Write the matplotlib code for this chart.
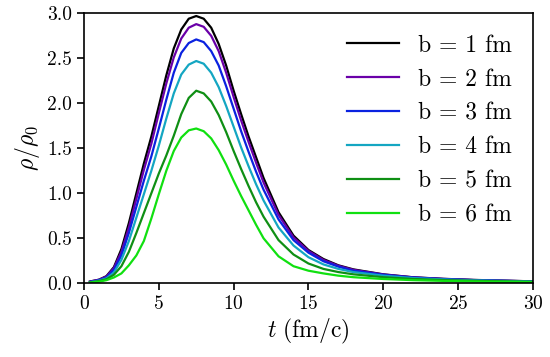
import matplotlib
matplotlib.use("Agg")
import matplotlib.pyplot as plt

plt.rcParams['font.family'] = 'serif'
plt.rcParams['font.serif'] = ['cmr10', 'DejaVu Serif']
plt.rcParams['mathtext.fontset'] = 'cm'
plt.rcParams['axes.formatter.use_mathtext'] = True

# time grid (fm/c)
t = [0.4, 1, 1.5, 2, 2.5, 3, 3.5, 4, 4.5, 5, 5.5, 6, 6.5, 7, 7.5, 8, 8.5, 9, 9.5,
     10, 10.5, 11, 11.5, 12, 13, 14, 15, 16, 17, 18, 20, 22, 24, 26, 28, 30]

# rho/rho0 for each impact parameter
rho_b1 = [0.02, 0.04, 0.08, 0.18, 0.38, 0.67, 1.00, 1.33, 1.63, 1.97, 2.31, 2.61, 2.82, 2.94, 2.97,
          2.94, 2.84, 2.66, 2.42, 2.14, 1.88, 1.63, 1.40, 1.17, 0.79, 0.53, 0.37, 0.27, 0.20, 0.155,
          0.10, 0.067, 0.05, 0.038, 0.03, 0.022]
rho_b2 = [0.02, 0.04, 0.075, 0.17, 0.35, 0.62, 0.94, 1.26, 1.55, 1.89, 2.22, 2.51, 2.72, 2.84, 2.88,
          2.85, 2.75, 2.58, 2.34, 2.07, 1.81, 1.57, 1.34, 1.12, 0.76, 0.51, 0.36, 0.26, 0.195, 0.15,
          0.098, 0.066, 0.049, 0.037, 0.029, 0.022]
rho_b3 = [0.015, 0.035, 0.065, 0.15, 0.31, 0.56, 0.85, 1.14, 1.41, 1.72, 2.04, 2.34, 2.56, 2.67, 2.71,
          2.68, 2.58, 2.42, 2.19, 1.94, 1.69, 1.46, 1.24, 1.04, 0.71, 0.48, 0.34, 0.245, 0.185, 0.14,
          0.094, 0.064, 0.047, 0.036, 0.028, 0.021]
rho_b4 = [0.012, 0.03, 0.055, 0.12, 0.26, 0.47, 0.73, 0.99, 1.25, 1.53, 1.83, 2.11, 2.32, 2.43, 2.47,
          2.44, 2.34, 2.18, 1.97, 1.74, 1.51, 1.30, 1.10, 0.92, 0.62, 0.42, 0.29, 0.21, 0.16, 0.125,
          0.085, 0.058, 0.043, 0.033, 0.026, 0.02]
rho_b5 = [0.01, 0.025, 0.045, 0.095, 0.19, 0.35, 0.56, 0.78, 1.00, 1.22, 1.42, 1.64, 1.88, 2.06, 2.14,
          2.11, 2.02, 1.87, 1.68, 1.47, 1.27, 1.08, 0.90, 0.74, 0.48, 0.32, 0.22, 0.16, 0.125, 0.10,
          0.068, 0.048, 0.036, 0.028, 0.022, 0.017]
rho_b6 = [0.008, 0.018, 0.035, 0.065, 0.11, 0.20, 0.31, 0.47, 0.72, 0.99, 1.25, 1.47, 1.62, 1.70, 1.72,
          1.69, 1.61, 1.48, 1.32, 1.14, 0.97, 0.81, 0.65, 0.50, 0.30, 0.19, 0.14, 0.11, 0.085, 0.068,
          0.048, 0.035, 0.027, 0.021, 0.017, 0.014]

labels = ['b = 1 fm', 'b = 2 fm', 'b = 3 fm', 'b = 4 fm', 'b = 5 fm', 'b = 6 fm']
colors = ['black', '#6a00a8', '#0a22e0', '#14a6c2', '#0f8f14', '#10e010']
series = [rho_b1, rho_b2, rho_b3, rho_b4, rho_b5, rho_b6]

fig = plt.figure(figsize=(5.5, 3.57), dpi=100)
ax = fig.add_axes([0.1527, 0.2064, 0.8163, 0.7563])

for rho, lab, col in zip(series, labels, colors):
    ax.plot(t, rho, color=col, lw=1.6, label=lab)

ax.set_xlim(0, 30)
ax.set_ylim(0, 3.0)
ax.set_xticks([0, 5, 10, 15, 20, 25, 30])
ax.set_yticks([0.0, 0.5, 1.0, 1.5, 2.0, 2.5, 3.0])
ax.set_yticklabels(['0.0', '0.5', '1.0', '1.5', '2.0', '2.5', '3.0'])
ax.tick_params(direction='out', length=5, width=1.2, labelsize=14)
for s in ax.spines.values():
    s.set_linewidth(1.2)

ax.set_xlabel(r'$t\ \mathrm{(fm/c)}$', fontsize=17, labelpad=3)
ax.set_ylabel(r'$\rho/\rho_0$', fontsize=17)

ax.legend(loc='upper right', frameon=False, fontsize=17, handlelength=2.2,
          labelspacing=0.5, borderaxespad=0.5)

fig.savefig('out.png', dpi=100)
